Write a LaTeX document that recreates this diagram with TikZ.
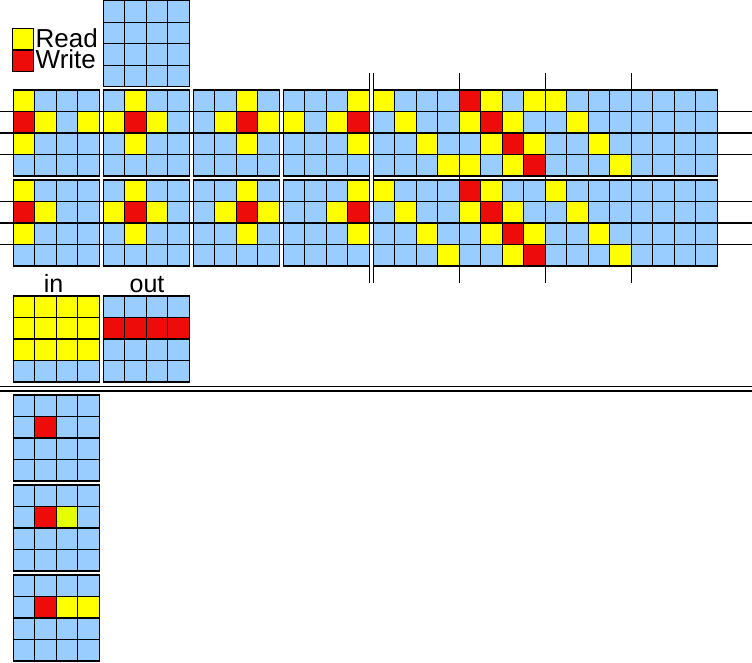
\documentclass[tikz,border=0pt]{standalone}
\usepackage{fontspec}
\setmainfont{Liberation Sans}
\definecolor{cB}{RGB}{153,204,255}
\definecolor{cY}{RGB}{255,255,0}
\definecolor{cR}{RGB}{238,12,10}
\definecolor{cG}{RGB}{230,255,0}
\newcommand\cellsz{21.5}
\newcommand\drawgrid[3]{%
  \foreach \rowlist [count=\ri from 0] in {#3} {
    \foreach \cc [count=\ci from 0] in \rowlist {
      \filldraw[cellbox, fill=c\cc] ({#1+\ci*\cellsz},{#2+\ri*\cellsz}) rectangle ++(\cellsz,\cellsz);
    }
  }
}
\begin{document}
\begin{tikzpicture}[x=1pt, y=-1pt,
  cellbox/.style={draw=black, line width=1.2pt},
  longline/.style={draw=black, line width=1.2pt},
  lbl/.style={inner sep=0pt, font=\fontsize{26}{30}\selectfont},
  lblsmall/.style={inner sep=0pt, font=\fontsize{25}{28}\selectfont}]
\useasboundingbox (0,0) rectangle (752,662);
% legend
\filldraw[cellbox, fill=cY] (12.3,28.5) rectangle (33.3,50);
\filldraw[cellbox, fill=cR] (12.3,50) rectangle (33.3,71.3);
\node[lbl, anchor=base west] (read) at (35.5,47.7) {Read};
\node[lbl, anchor=base west] (write) at (35.5,68.3) {Write};
% top grid
\drawgrid{103.3}{0.7}{{B,B,B,B},{B,B,B,B},{B,B,B,B},{B,B,B,B}}
% band 1
\drawgrid{13.3}{90}{{Y,B,B,B},{R,Y,B,Y},{Y,B,B,B},{B,B,B,B}}
\drawgrid{103.3}{90}{{B,Y,B,B},{Y,R,Y,B},{B,Y,B,B},{B,B,B,B}}
\drawgrid{193.3}{90}{{B,B,Y,B},{B,Y,R,Y},{B,B,Y,B},{B,B,B,B}}
\drawgrid{283.3}{90}{{B,B,B,Y},{Y,B,Y,R},{B,B,B,Y},{B,B,B,B}}
\drawgrid{373.3}{90}{{Y,B,B,B,R,Y,B,Y,Y,B,B,B,B,B,B,B},{B,Y,B,B,Y,R,Y,B,B,Y,B,B,B,B,B,B},{B,B,Y,B,B,Y,R,Y,B,B,Y,B,B,B,B,B},{B,B,B,Y,Y,B,Y,R,B,B,B,Y,B,B,B,B}}
% band 2
\drawgrid{13.3}{180}{{Y,B,B,B},{R,Y,B,B},{Y,B,B,B},{B,B,B,B}}
\drawgrid{103.3}{180}{{B,Y,B,B},{Y,R,Y,B},{B,Y,B,B},{B,B,B,B}}
\drawgrid{193.3}{180}{{B,B,Y,B},{B,Y,R,Y},{B,B,Y,B},{B,B,B,B}}
\drawgrid{283.3}{180}{{B,B,B,Y},{B,B,Y,R},{B,B,B,Y},{B,B,B,B}}
\drawgrid{373.3}{180}{{Y,B,B,B,R,Y,B,B,Y,B,B,B,B,B,B,B},{B,Y,B,B,Y,R,Y,B,B,Y,B,B,B,B,B,B},{B,B,Y,B,B,Y,R,Y,B,B,Y,B,B,B,B,B},{B,B,B,Y,B,B,Y,R,B,B,B,Y,B,B,B,B}}
% long lines
\foreach \yy in {111.5,133,154.5,201.5,223,244.5}
  \draw[longline] (0,\yy) -- (752,\yy);
\foreach \xx in {369.3,373.3,459.3,545.3,631.3}
  \draw[longline] (\xx,73) -- (\xx,283.3);
% in / out
\node[lblsmall, anchor=base] (inlbl) at (53.5,292) {in};
\node[lblsmall, anchor=base] (outlbl) at (147,292) {out};
\drawgrid{13.3}{296}{{Y,Y,Y,Y},{Y,Y,Y,Y},{Y,Y,Y,Y},{B,B,B,B}}
\drawgrid{103.3}{296}{{B,B,B,B},{R,R,R,R},{B,B,B,B},{B,B,B,B}}
% separator
\draw[longline] (0,386.5) -- (752,386.5);
\draw[longline] (0,391) -- (752,391);
% bottom grids
\drawgrid{13.3}{395}{{B,B,B,B},{B,R,B,B},{B,B,B,B},{B,B,B,B}}
\drawgrid{13.3}{485}{{B,B,B,B},{B,R,G,B},{B,B,B,B},{B,B,B,B}}
\drawgrid{13.3}{575}{{B,B,B,B},{B,R,Y,Y},{B,B,B,B},{B,B,B,B}}
\end{tikzpicture}
\end{document}
